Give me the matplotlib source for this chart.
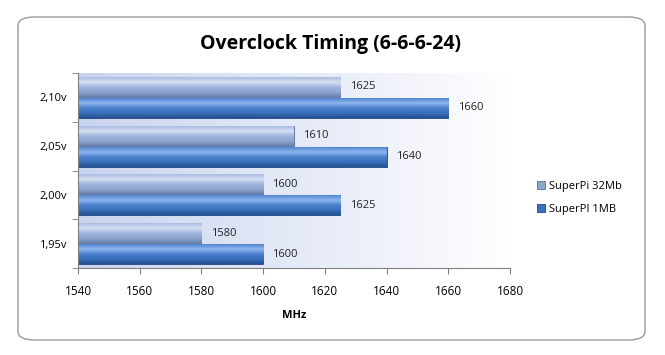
import matplotlib
matplotlib.use("Agg")
import matplotlib.pyplot as plt
import numpy as np
from matplotlib.colors import LinearSegmentedColormap
from matplotlib.patches import FancyBboxPatch

voltages = ["1,95v", "2,00v", "2,05v", "2,10v"]
superpi_32mb = [1580, 1600, 1610, 1625]
superpi_1mb = [1600, 1625, 1640, 1660]
series_names = ["SuperPi 32Mb", "SuperPI 1MB"]
xticks = [1540, 1560, 1580, 1600, 1620, 1640, 1660, 1680]

plt.rcParams.update({"font.family": ["Open Sans", "DejaVu Sans"], "font.size": 8})

fig = plt.figure(figsize=(6.65, 3.55), dpi=100)
fig.patch.set_facecolor("white")

# rounded outer frame
frame = FancyBboxPatch((18 / 665, 15 / 355), 627 / 665, 323 / 355,
                       boxstyle="round,pad=0,rounding_size=0.025",
                       transform=fig.transFigure, facecolor="none",
                       edgecolor="#9a9a9a", linewidth=1.0, zorder=-10)
fig.patches.append(frame)

ax = fig.add_axes([78 / 665, 1 - 268 / 355, 432 / 665, 195 / 355])
ax.set_facecolor("none")

# plot-area gradient: light blue on the left to white on the right
bg = LinearSegmentedColormap.from_list("bg", ["#c9d4ee", "#ffffff"])
ax.imshow(np.linspace(0, 1, 256)[None, :], cmap=bg, aspect="auto",
          extent=[0, 1, 0, 1], transform=ax.transAxes, zorder=0)

y = np.arange(len(voltages))
h = 0.41
off = 0.215

shade_32 = LinearSegmentedColormap.from_list(
    "s32", ["#6b82b0", "#8ea5d0", "#9fb4dc", "#d6e0f3", "#a9bce0"])
shade_1 = LinearSegmentedColormap.from_list(
    "s1", ["#24508f", "#3a6fbb", "#4a80cc", "#8fb6ee", "#5087d2"])

def glossy(bars, cmap):
    grad = np.linspace(0, 1, 64)[:, None]
    for b in bars:
        x0, y0 = b.get_x(), b.get_y()
        im = ax.imshow(grad, cmap=cmap, aspect="auto", origin="lower",
                       extent=[x0, x0 + b.get_width(), y0, y0 + b.get_height()],
                       zorder=2)
        im.set_clip_path(b)

bars32 = ax.barh(y + off, np.array(superpi_32mb) - xticks[0], h, left=xticks[0],
                 color="#8ea5d0", edgecolor="#5a6f99", linewidth=0.6,
                 label=series_names[0], zorder=2)
bars1 = ax.barh(y - off, np.array(superpi_1mb) - xticks[0], h, left=xticks[0],
                color="#3a6fbb", edgecolor="#1f467f", linewidth=0.6,
                label=series_names[1], zorder=2)
glossy(bars32, shade_32)
glossy(bars1, shade_1)

for yy, v in zip(y + off, superpi_32mb):
    ax.text(v + 3, yy, str(v), va="center", ha="left", fontsize=8, color="#222222")
for yy, v in zip(y - off, superpi_1mb):
    ax.text(v + 3, yy, str(v), va="center", ha="left", fontsize=8, color="#222222")

ax.set_xlim(xticks[0], xticks[-1])
ax.set_ylim(-0.5, len(voltages) - 0.5)
ax.set_xticks(xticks)
ax.set_yticks(y, voltages)
ax.set_yticks(np.arange(-0.5, len(voltages)), minor=True)
ax.tick_params(axis="y", which="major", length=0, pad=8)
ax.tick_params(axis="y", which="minor", length=4, color="#808080")
ax.tick_params(axis="x", length=4, color="#808080", pad=8, labelsize=8.5)
for s in ("top", "right"):
    ax.spines[s].set_visible(False)
for s in ("left", "bottom"):
    ax.spines[s].set_color("#808080")
    ax.spines[s].set_linewidth(0.8)

ax.set_xlabel("MHz", fontsize=8, fontweight="bold", labelpad=9)

fig.text(330 / 665, 1 - 44 / 355, "Overclock Timing (6-6-6-24)",
         ha="center", va="center", fontsize=14, fontweight="bold")

handles, labels = ax.get_legend_handles_labels()
ax.legend(handles, labels, loc="center left", bbox_to_anchor=(527 / 665, 1 - 198 / 355),
          bbox_transform=fig.transFigure, frameon=False, fontsize=8,
          handlelength=0.7, handleheight=0.7, handletextpad=0.4, labelspacing=1.1)

fig.savefig("out.png", dpi=100)
